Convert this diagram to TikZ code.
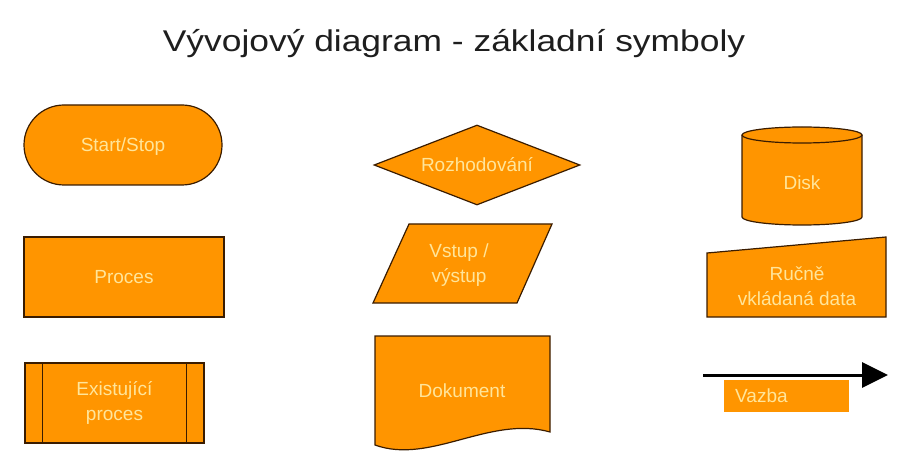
\documentclass[tikz,border=0pt]{standalone}
\usepackage{fontspec}
\setmainfont{Liberation Sans}
\usetikzlibrary{arrows.meta,shapes.geometric,shapes.misc}
\definecolor{oranz}{HTML}{FF9500}
\definecolor{okraj}{HTML}{3A1C00}
\definecolor{popis}{HTML}{FFE59A}
\definecolor{nadpis}{HTML}{1E1E1E}

\begin{document}
\begin{tikzpicture}[x=1pt,y=-1pt]
  \tikzstyle{symbol}=[draw=okraj,line width=1.2pt,fill=oranz,text=popis,
        font=\fontsize{19}{25}\selectfont,align=center,inner sep=0pt]
  \tikzstyle{tvar}=[draw=okraj,line width=1.2pt,fill=oranz]
  \tikzstyle{popisek}=[text=popis,font=\fontsize{19}{25}\selectfont,align=center]
  \useasboundingbox (0,0) rectangle (920,470);
  \node [anchor=base,text=nadpis,font=\fontsize{30}{36}\selectfont] (nadpis) at (454,52)
        {\scalebox{1.18}[1]{Vývojový diagram - základní symboly}};
  % levy sloupec
  \node [symbol,rounded rectangle,minimum width=198pt,minimum height=80pt,text depth=0pt] (start) at (123,145) {Start/Stop};
  \node [symbol,rectangle,minimum width=200pt,minimum height=80pt,text depth=0pt] (proces) at (124,277) {Proces};
  \node [symbol,rectangle,minimum width=179pt,minimum height=80pt] (exproces) at (114.5,403) {Existující\\proces};
  \draw [okraj,line width=1.2pt] ([xshift=18pt]exproces.north west) -- ([xshift=18pt]exproces.south west);
  \draw [okraj,line width=1.2pt] ([xshift=-18pt]exproces.north east) -- ([xshift=-18pt]exproces.south east);
  % prostredni sloupec
  \node [symbol,diamond,aspect=2.5,minimum width=206pt,minimum height=80pt] (rozhod) at (477,165) {Rozhodování};
  \draw [tvar] (409,224) -- (552,224) -- (517,303) -- (373,303) -- cycle;
  \node [popisek] (vstup) at (459,265) {Vstup /\\výstup};
  \draw [tvar] (375,336) -- (550,336) -- (550,432) .. controls (490,415) and (430,465) .. (375,445) -- cycle;
  \node [popisek,text depth=0pt] (dokument) at (462,391) {Dokument};
  % pravy sloupec
  \draw [tvar] (742,135) -- (742,217) arc [start angle=180,end angle=360,x radius=60pt,y radius=8pt] -- (862,135);
  \draw [tvar] (802,135) ellipse [x radius=60pt,y radius=8pt];
  \node [popisek,text depth=0pt] (disk) at (802,183) {Disk};
  \draw [tvar] (707,253) -- (886,237) -- (886,317) -- (707,317) -- cycle;
  \node [popisek] (rucne) at (797,286) {Ručně\\vkládaná data};
  \coordinate (vazbaZ) at (703,375);
  \coordinate (vazbaK) at (888,375);
  \draw [line width=3pt,-{Triangle[length=26pt,width=25pt]}] (vazbaZ) -- (vazbaK);
  \node [fill=oranz,text=popis,font=\fontsize{19}{25}\selectfont,anchor=west,minimum height=32pt,
        text width=103pt,inner xsep=11pt,inner ysep=0pt,align=left] (vazba) at (724,396) {Vazba};
\end{tikzpicture}
\end{document}
